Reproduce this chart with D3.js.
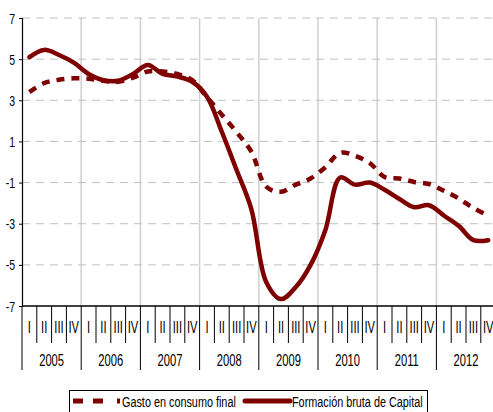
<!DOCTYPE html>
<html>
<head>
<meta charset="utf-8">
<script src="https://cdn.jsdelivr.net/npm/d3@7"></script>
<style>
  html, body { margin: 0; padding: 0; background: #fff; overflow: hidden; }
  svg { display: block; font-family: "Liberation Sans", Arial, sans-serif; }
</style>
</head>
<body>
<svg id="chart" width="493" height="412"></svg>
<script>
// Quarterly growth rates, 2005 Q1 – 2012 Q4
const years = ["2005", "2006", "2007", "2008", "2009", "2010", "2011", "2012"];
const quarters = ["I", "II", "III", "IV"];
const yTicks = [7, 5, 3, 1, -1, -3, -5, -7];

const gastoConsumo = [
  3.4, 3.84, 4.0, 4.07, 4.05, 3.95, 3.9, 4.1,
  4.4, 4.4, 4.28, 3.98, 3.15, 2.3, 1.45, 0.5,
  -1.2, -1.45, -1.1, -0.8, -0.25, 0.45, 0.3, -0.05,
  -0.73, -0.8, -0.97, -1.07, -1.4, -1.77, -2.24, -2.6
];
const formacionBruta = [
  5.1, 5.45, 5.2, 4.83, 4.28, 3.98, 3.95, 4.28,
  4.72, 4.28, 4.15, 3.9, 3.17, 1.47, -0.39, -2.3,
  -5.83, -6.66, -6.08, -5.0, -3.3, -0.75, -1.1, -1.0,
  -1.35, -1.8, -2.2, -2.1, -2.6, -3.1, -3.8, -3.8
];

const labels = [];
years.forEach(y => quarters.forEach(q => labels.push(y + "-" + q)));

const svg = d3.select("#chart");
const plotLeft = 22, plotTop = 18, plotBottom = 306;
const step = 14.8;
const plotRight = plotLeft + labels.length * step;
const color = "#7f0000";
const squeeze = 0.7; // narrow typeface look

const x = d3.scaleBand().domain(labels).range([plotLeft, plotRight]).paddingInner(0).paddingOuter(0);
const y = d3.scaleLinear().domain([-7, 7]).range([plotBottom, plotTop]);
const cx = d => x(d) + x.bandwidth() / 2;

function narrowText(parent, tx, ty, str, size, anchor) {
  return parent.append("text")
    .attr("transform", `translate(${tx},${ty}) scale(${squeeze},1)`)
    .attr("text-anchor", anchor)
    .attr("font-size", size)
    .attr("fill", "#000")
    .text(str);
}

// vertical year separators
svg.append("g").selectAll("line")
  .data(years.slice(1))
  .join("line")
  .attr("x1", d => x(d + "-I")).attr("x2", d => x(d + "-I"))
  .attr("y1", plotTop).attr("y2", plotBottom)
  .attr("stroke", "#d0d0d0").attr("stroke-width", 1.5);

// dashed horizontal grid
svg.append("g").selectAll("line")
  .data(yTicks.filter(v => v !== -7))
  .join("line")
  .attr("x1", plotLeft).attr("x2", plotRight)
  .attr("y1", d => y(d)).attr("y2", d => y(d))
  .attr("stroke", "#c0c0c0").attr("stroke-width", 1)
  .attr("stroke-dasharray", "8,6");

// y axis
const yAxis = d3.axisLeft(y).tickValues(yTicks).tickSize(3).tickPadding(4)
  .tickFormat(d => String(d));
const gy = svg.append("g").attr("transform", `translate(${plotLeft},0)`).call(yAxis);
gy.select(".domain").attr("stroke", "#000").attr("stroke-width", 1.2);
gy.selectAll(".tick line").attr("stroke", "#000");
gy.selectAll(".tick text")
  .attr("x", 0).attr("dy", null)
  .attr("transform", `translate(-7,5) scale(${squeeze},1)`)
  .attr("font-size", 15).attr("fill", "#000")
  .attr("font-family", "Liberation Sans, Arial, sans-serif");

// x axis baseline
svg.append("line")
  .attr("x1", plotLeft).attr("x2", plotRight)
  .attr("y1", plotBottom).attr("y2", plotBottom)
  .attr("stroke", "#000").attr("stroke-width", 1.5);

// quarter separators and labels
const sep = svg.append("g");
labels.forEach((d, i) => {
  const xb = x(d);
  const isYear = i % 4 === 0;
  sep.append("line")
    .attr("x1", xb).attr("x2", xb)
    .attr("y1", plotBottom).attr("y2", isYear ? 370 : 343)
    .attr("stroke", "#000").attr("stroke-width", 1);
});
sep.append("line")
  .attr("x1", plotRight).attr("x2", plotRight)
  .attr("y1", plotBottom).attr("y2", 370)
  .attr("stroke", "#000");

const gq = svg.append("g");
labels.forEach(d => narrowText(gq, cx(d), 333, d.split("-")[1], 16, "middle"));

const gyr = svg.append("g");
years.forEach(d => narrowText(gyr, x(d + "-I") + 2 * step, 366, d, 16, "middle"));

// series lines
const line = d3.line()
  .x((d, i) => cx(labels[i]))
  .y(d => y(d))
  .curve(d3.curveCatmullRom.alpha(0.5));

svg.append("path")
  .datum(gastoConsumo)
  .attr("d", line)
  .attr("fill", "none")
  .attr("stroke", color)
  .attr("stroke-width", 4.5)
  .attr("stroke-dasharray", "8,7");

svg.append("path")
  .datum(formacionBruta)
  .attr("d", line)
  .attr("fill", "none")
  .attr("stroke", color)
  .attr("stroke-width", 4.5)
  .attr("stroke-linejoin", "round")
  .attr("stroke-linecap", "round");

// legend
const lg = svg.append("g");
lg.append("rect")
  .attr("x", 69.5).attr("y", 390.5)
  .attr("width", 358).attr("height", 30)
  .attr("fill", "#fff").attr("stroke", "#000").attr("stroke-width", 1);
lg.append("line")
  .attr("x1", 73).attr("x2", 120).attr("y1", 401).attr("y2", 401)
  .attr("stroke", color).attr("stroke-width", 5)
  .attr("stroke-dasharray", "10,10,10,14,3");
narrowText(lg, 122, 407, "Gasto en consumo final", 15.5, "start");
lg.append("line")
  .attr("x1", 245).attr("x2", 290).attr("y1", 401).attr("y2", 401)
  .attr("stroke", color).attr("stroke-width", 5)
  .attr("stroke-linecap", "round");
narrowText(lg, 292, 407, "Formación bruta de Capital", 15.5, "start");
</script>
</body>
</html>
